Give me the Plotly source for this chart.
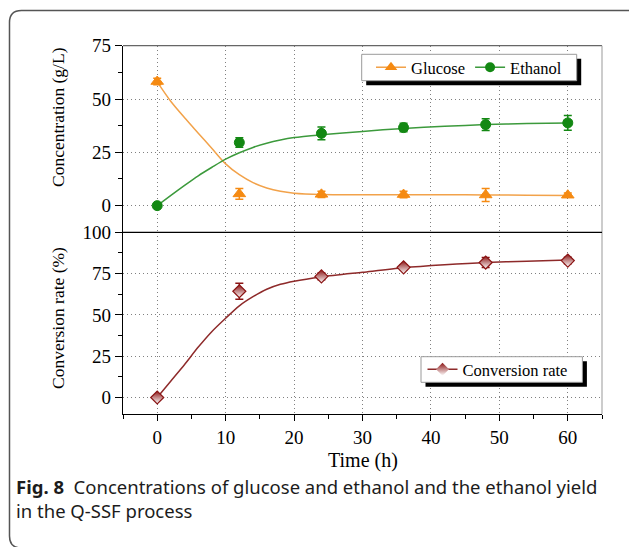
import plotly.graph_objects as go

# Sampling times (h) and measured values with standard deviations
time_h = [0, 12, 24, 36, 48, 60]
glucose = [58.2, 5.5, 5.3, 5.2, 5.0, 4.9]
glucose_err = [1.5, 2.5, 1.5, 1.5, 3.0, 1.0]
ethanol = [0.0, 29.6, 33.9, 36.6, 38.0, 38.8]
ethanol_err = [0.5, 2.2, 3.0, 2.0, 2.8, 3.5]
conversion = [0.0, 64.3, 73.3, 78.8, 81.7, 82.9]
conversion_err = [1.0, 4.8, 2.0, 1.5, 3.0, 2.0]

# Fitted trend curves
fit_t = [0, 2, 4, 6, 8, 10, 12, 14, 16, 18, 20, 24, 30, 36, 42, 48, 54, 60]
glucose_fit = [58.0, 48.8, 41.2, 34.0, 26.8, 19.6, 14.5, 10.8, 8.3, 6.7, 5.8, 5.2, 5.1, 5.1, 5.1, 5.0, 4.9, 4.7]
ethanol_fit = [0.0, 4.8, 9.5, 14.0, 18.0, 21.8, 24.8, 27.3, 29.3, 30.8, 31.9, 33.2, 34.8, 36.2, 37.2, 38.0, 38.5, 38.8]
conversion_fit = [0.0, 10.0, 20.0, 30.5, 40.0, 48.0, 55.5, 61.0, 65.5, 68.5, 70.4, 73.0, 75.8, 78.5, 80.3, 81.7, 82.5, 83.2]

x_ticks = [0, 10, 20, 30, 40, 50, 60]
conc_ticks = [0, 25, 50, 75]
conv_ticks = [0, 25, 50, 75, 100]

W, H = 629, 547
ORANGE = "#F58A12"
ORANGE_LINE = "#F2A24A"
GREEN = "#138813"
GREEN_LINE = "#3C9A3C"
MAROON = "#8A1414"
MAROON_LINE = "#8E2A2A"
SERIF = "Liberation Serif, Times New Roman, serif"


def px_x(p):
    return p / W


def px_y(p):
    return 1 - p / H


plot_l, plot_r = 123, 602
top_y, mid_y, bot_y = 45.7, 232.3, 414.0

fig = go.Figure()

err_style = dict(type="data", thickness=1.5, width=4)
spline = dict(width=1.5, shape="spline", smoothing=0.8)

# Upper panel: concentrations
fig.add_trace(go.Scatter(x=fit_t, y=glucose_fit, mode="lines", line=dict(color=ORANGE_LINE, **spline),
                         xaxis="x2", yaxis="y2", showlegend=False, hoverinfo="skip"))
fig.add_trace(go.Scatter(x=fit_t, y=ethanol_fit, mode="lines", line=dict(color=GREEN_LINE, **spline),
                         xaxis="x2", yaxis="y2", showlegend=False, hoverinfo="skip"))
fig.add_trace(go.Scatter(x=time_h, y=glucose, mode="markers",
                         marker=dict(symbol="triangle-up", size=11, color=ORANGE, line=dict(color=ORANGE, width=1)),
                         error_y=dict(array=glucose_err, color=ORANGE, **err_style),
                         xaxis="x2", yaxis="y2", showlegend=False))
fig.add_trace(go.Scatter(x=time_h, y=ethanol, mode="markers",
                         marker=dict(symbol="circle", size=10, color=GREEN, line=dict(color=GREEN, width=1)),
                         error_y=dict(array=ethanol_err, color=GREEN, **err_style),
                         xaxis="x2", yaxis="y2", showlegend=False))

# Lower panel: conversion rate
fig.add_trace(go.Scatter(x=fit_t, y=conversion_fit, mode="lines", line=dict(color=MAROON_LINE, **spline),
                         xaxis="x", yaxis="y", showlegend=False, hoverinfo="skip"))
fig.add_trace(go.Scatter(x=time_h, y=conversion, mode="markers",
                         marker=dict(symbol="diamond", size=10, color=MAROON, line=dict(color=MAROON, width=1.2),
                                     gradient=dict(type="vertical", color="white")),
                         error_y=dict(array=conversion_err, color=MAROON, **err_style),
                         xaxis="x", yaxis="y", showlegend=False))

# Legend entries
fig.add_trace(go.Scatter(x=[None], y=[None], mode="lines+markers", name="Glucose",
                         line=dict(color=ORANGE_LINE, width=1.5),
                         marker=dict(symbol="triangle-up", size=11, color=ORANGE),
                         xaxis="x2", yaxis="y2", legend="legend"))
fig.add_trace(go.Scatter(x=[None], y=[None], mode="lines+markers", name="Ethanol",
                         line=dict(color=GREEN_LINE, width=1.5),
                         marker=dict(symbol="circle", size=10, color=GREEN),
                         xaxis="x2", yaxis="y2", legend="legend"))
fig.add_trace(go.Scatter(x=[None], y=[None], mode="lines+markers", name="Conversion rate",
                         line=dict(color=MAROON_LINE, width=1.5),
                         marker=dict(symbol="diamond", size=10, color=MAROON, gradient=dict(type="vertical", color="white")),
                         xaxis="x", yaxis="y", legend="legend2"))

grid = dict(showgrid=True, gridcolor="#808080", griddash="1px,3px", gridwidth=1, zeroline=False, automargin=False)
tickfont = dict(family=SERIF, size=19, color="black")
minor_y = dict(dtick=12.5, tick0=0, ticks="outside", ticklen=4, tickcolor="black", showgrid=False)

xdom = [px_x(plot_l), px_x(plot_r)]
legend_font = dict(family=SERIF, size=16.5, color="black")
fig.update_layout(
    width=W, height=H,
    margin=dict(l=0, r=0, t=0, b=0, pad=0, autoexpand=False),
    paper_bgcolor="white", plot_bgcolor="white",
    xaxis=dict(domain=xdom, anchor="y", range=[-5, 65], tickvals=x_ticks, ticks="outside", ticklen=6,
               tickwidth=1.3, tickcolor="black", showline=True, linecolor="black", linewidth=1.3,
               tickfont=tickfont, minor=dict(dtick=5, tick0=0, ticks="outside", ticklen=4, tickcolor="black", showgrid=False),
               **grid),
    xaxis2=dict(domain=xdom, anchor="y2", matches="x", range=[-5, 65], tickvals=x_ticks, showticklabels=False,
                ticks="", showline=False, **grid),
    yaxis=dict(domain=[px_y(bot_y), px_y(mid_y)], anchor="x", range=[-10, 100], tickvals=conv_ticks,
               ticks="outside", ticklen=7, tickwidth=1.3, tickcolor="black", showline=True, linecolor="black",
               linewidth=1.3, tickfont=tickfont, minor=minor_y, **grid),
    yaxis2=dict(domain=[px_y(mid_y), px_y(top_y)], anchor="x2", range=[-12.5, 75], tickvals=conc_ticks,
                ticks="outside", ticklen=7, tickwidth=1.3, tickcolor="black", showline=True, linecolor="black",
                linewidth=1.3, tickfont=tickfont, minor=minor_y, **grid),
    legend=dict(x=px_x(371), y=px_y(67.5), xanchor="left", yanchor="middle", orientation="h",
                bgcolor="rgba(0,0,0,0)", borderwidth=0, font=legend_font, itemwidth=30),
    legend2=dict(x=px_x(422.5), y=px_y(369.5), xanchor="left", yanchor="middle", orientation="h",
                 bgcolor="rgba(0,0,0,0)", borderwidth=0, font=legend_font, itemwidth=30),
    showlegend=True,
)

shapes = []
# Panel borders
shapes.append(dict(type="line", xref="paper", yref="paper", x0=xdom[0], x1=xdom[1], y0=px_y(top_y), y1=px_y(top_y),
                   line=dict(color="#666", width=1.3)))
shapes.append(dict(type="line", xref="paper", yref="paper", x0=xdom[1], x1=xdom[1], y0=px_y(bot_y), y1=px_y(top_y),
                   line=dict(color="#aaa", width=1.2)))
shapes.append(dict(type="line", xref="paper", yref="paper", x0=xdom[0], x1=xdom[1], y0=px_y(mid_y), y1=px_y(mid_y),
                   line=dict(color="black", width=1.3)))


# Legend frames with drop shadows
def legend_frame(x0, y0, x1, y1, off=4.5):
    return [
        dict(type="rect", xref="paper", yref="paper", x0=px_x(x0 + off), x1=px_x(x1 + off),
             y0=px_y(y1 + off), y1=px_y(y0 + off), fillcolor="black", line=dict(width=0)),
        dict(type="rect", xref="paper", yref="paper", x0=px_x(x0), x1=px_x(x1),
             y0=px_y(y1), y1=px_y(y0), fillcolor="white", line=dict(color="#9a9a9a", width=1)),
    ]


shapes += legend_frame(361.7, 54.3, 576.7, 80.7)
shapes += legend_frame(421, 356.7, 582.4, 382.3)


# Rounded outer frame
def pt(x, y):
    return f"{px_x(x):.5f},{px_y(y):.5f}"


frame = (f"M{pt(640, 10.5)} L{pt(21.5, 10.5)} Q{pt(9.5, 10.5)} {pt(9.5, 22.5)} "
         f"L{pt(9.5, 536)} Q{pt(9.5, 548)} {pt(21.5, 548)} L{pt(640, 548)}")
shapes.append(dict(type="path", xref="paper", yref="paper", path=frame, line=dict(color="#555", width=1.5)))
fig.update_layout(shapes=shapes)

annotations = [
    dict(text="Concentration (g/L)", x=px_x(58), y=px_y(117), textangle=-90, showarrow=False,
         xref="paper", yref="paper", xanchor="center", yanchor="middle", font=dict(family=SERIF, size=17.5, color="black")),
    dict(text="Conversion rate (%)", x=px_x(58), y=px_y(318), textangle=-90, showarrow=False,
         xref="paper", yref="paper", xanchor="center", yanchor="middle", font=dict(family=SERIF, size=17.5, color="black")),
    dict(text="Time (h)", x=px_x(363), y=px_y(460.5), showarrow=False, xref="paper", yref="paper",
         xanchor="center", yanchor="middle", font=dict(family=SERIF, size=20, color="black")),
    dict(text="<b>Fig. 8</b>  Concentrations of glucose and ethanol and the ethanol yield<br>in the Q-SSF process",
         x=px_x(14), y=px_y(472), showarrow=False, xref="paper", yref="paper", xanchor="left", yanchor="top",
         align="left", font=dict(family="Noto Sans", size=18.5, color="#1c1c1c")),
]
fig.update_layout(annotations=annotations)

fig.write_html("out.html")
